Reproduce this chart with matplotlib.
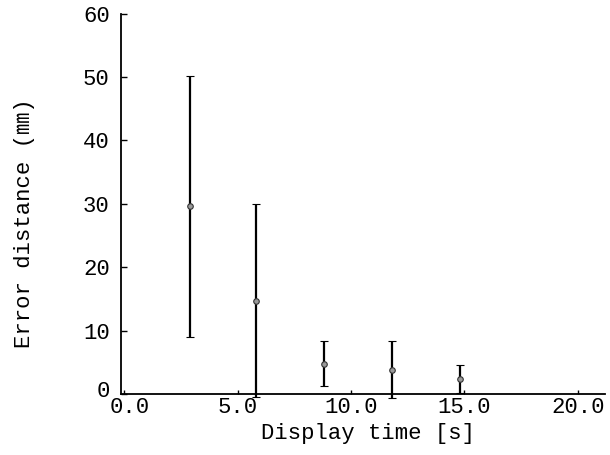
import matplotlib
matplotlib.use("Agg")
import matplotlib.pyplot as plt
from matplotlib.transforms import ScaledTranslation

# Display time [s] and error distance (mean, sd)
display_time = [2.9, 5.8, 8.8, 11.8, 14.8]
error_mean = [29.6, 14.7, 4.8, 3.8, 2.4]
error_sd = [20.6, 15.2, 3.6, 4.5, 2.2]

x_ticks = [0, 5, 10, 15, 20]
x_tick_labels = ["0.0", "5.0", "10.0", "15.0", "20.0"]
y_ticks = [0, 10, 20, 30, 40, 50, 60]

plt.rcParams['font.family'] = ['Liberation Mono', 'Noto Sans CJK JP']

fig = plt.figure(figsize=(6.10, 4.55), dpi=100)
ax = fig.add_axes([0.198, 0.134, 0.794, 0.836])

ax.errorbar(display_time, error_mean, yerr=error_sd, fmt='o', color='black',
            ecolor='black', elinewidth=1.6, capsize=3, capthick=1.6,
            markersize=4, markerfacecolor='#999999', markeredgecolor='#333333',
            markeredgewidth=0.8, clip_on=False, zorder=3)

ax.set_xlim(-0.15, 21.2)
ax.set_ylim(0, 59.5)
ax.set_xticks(x_ticks)
ax.set_xticklabels(x_tick_labels)
ax.set_yticks(y_ticks)

ax.spines['top'].set_visible(False)
ax.spines['right'].set_visible(False)
ax.spines['left'].set_linewidth(1.3)
ax.spines['bottom'].set_linewidth(1.3)
ax.tick_params(axis='y', direction='in', length=4, width=1, labelsize=16, pad=8)
ax.tick_params(axis='x', direction='in', length=3, width=1, labelsize=16, pad=2)

# nudge the two zero labels apart like in the original
ax.get_xticklabels()[0].set_transform(
    ax.get_xticklabels()[0].get_transform() + ScaledTranslation(6 / 100, 0, fig.dpi_scale_trans))
ax.get_yticklabels()[0].set_transform(
    ax.get_yticklabels()[0].get_transform() + ScaledTranslation(0, 5 / 100, fig.dpi_scale_trans))

ax.set_xlabel("Display time [s]", fontsize=16, labelpad=5)
ax.set_ylabel("Error distance (㎜)", fontsize=16)
ax.yaxis.set_label_coords(-0.178, 0.45)
ax.xaxis.set_label_coords(0.51, -0.075)

fig.savefig("out.png", dpi=100)
